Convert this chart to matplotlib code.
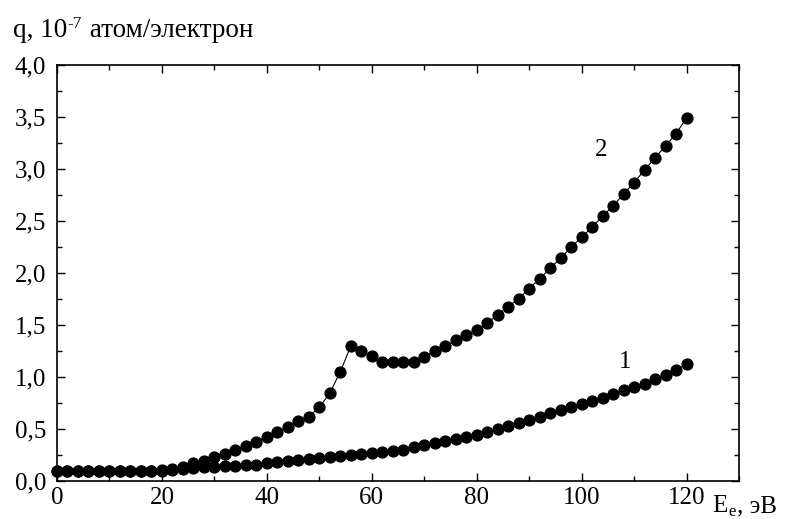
import matplotlib
matplotlib.use("Agg")
import matplotlib.pyplot as plt
from matplotlib.ticker import MultipleLocator, FuncFormatter

energy = list(range(0, 122, 2))

curve1 = [0.10, 0.10, 0.10, 0.10, 0.10, 0.10, 0.10, 0.10, 0.10, 0.10,
          0.105, 0.11, 0.12, 0.125, 0.13, 0.135, 0.14, 0.145, 0.15, 0.158,
          0.17, 0.18, 0.19, 0.20, 0.21, 0.22, 0.23, 0.24, 0.248, 0.258,
          0.27, 0.28, 0.29, 0.30, 0.325, 0.345, 0.367, 0.385, 0.40, 0.423,
          0.442, 0.471, 0.503, 0.532, 0.561, 0.59, 0.618, 0.651, 0.683, 0.712,
          0.743, 0.772, 0.801, 0.837, 0.872, 0.904, 0.936, 0.981, 1.019, 1.067,
          1.122]

curve2 = [0.10, 0.10, 0.10, 0.10, 0.10, 0.10, 0.10, 0.10, 0.10, 0.10,
          0.10, 0.115, 0.138, 0.17, 0.196, 0.228, 0.255, 0.296, 0.332, 0.373,
          0.42, 0.469, 0.523, 0.574, 0.62, 0.709, 0.845, 1.05, 1.297, 1.25,
          1.20, 1.147, 1.147, 1.147, 1.147, 1.197, 1.247, 1.297, 1.352, 1.40,
          1.45, 1.518, 1.598, 1.676, 1.752, 1.85, 1.945, 2.045, 2.144, 2.247,
          2.346, 2.44, 2.548, 2.644, 2.76, 2.87, 2.99, 3.11, 3.22, 3.34,
          3.49]

curve_labels = ["1", "2"]
label_pos = [(108.2, 1.14), (103.8, 3.18)]

plt.rcParams['font.family'] = ['Liberation Serif', 'DejaVu Serif']

fig = plt.figure(figsize=(7.89, 5.19), dpi=100)
ax = fig.add_axes([57/789, 1-481/519, (739-57)/789, (481-65)/519])

for y in (curve1, curve2):
    ax.plot(energy, y, color='black', lw=0.8, marker='o', ms=7.8,
            mfc='black', mec='black', clip_on=False, zorder=3)

for lab, (x, y) in zip(curve_labels, label_pos):
    ax.text(x, y, lab, fontsize=18, ha='center', va='center')

ax.set_xlim(0, 130)
ax.set_ylim(0, 4.0)
ax.xaxis.set_major_locator(MultipleLocator(20))
ax.xaxis.set_minor_locator(MultipleLocator(10))
ax.yaxis.set_major_locator(MultipleLocator(0.5))
ax.yaxis.set_minor_locator(MultipleLocator(0.25))
ax.yaxis.set_major_formatter(FuncFormatter(lambda v, p: f"{v:.1f}".replace('.', ',')))
ax.xaxis.set_major_formatter(FuncFormatter(lambda v, p: "" if v > 125 else f"{v:.0f}"))

ax.tick_params(which='both', direction='in', top=True, right=True, width=1.0,
               labelsize=18)
ax.tick_params(which='major', length=5.5)
ax.tick_params(which='minor', length=3.5)
ax.tick_params(axis='x', pad=4)
ax.tick_params(axis='y', pad=8)
for s in ax.spines.values():
    s.set_linewidth(1.2)


def chain(parts, x0, y0):
    """Place text pieces one after another (pixel coords, baseline)."""
    renderer = fig.canvas.get_renderer()
    x = x0
    for txt, size, dy, gap in parts:
        t = fig.text(x / 789, 1 - (y0 - dy) / 519, txt, fontsize=size,
                     ha='left', va='baseline')
        bb = t.get_window_extent(renderer=renderer)
        x = bb.x1 + gap


chain([("q, 10", 19.5, 0, 0.5), ("-7", 12.5, 9, 0.5),
       (" атом/электрон", 19.5, 0, 0)], 13, 37)
chain([("E", 18, 0, 1), ("e", 12, -3.5, 1.5), (", эВ", 18, 0, 0)], 712, 512)

fig.savefig("out.png", dpi=100)
